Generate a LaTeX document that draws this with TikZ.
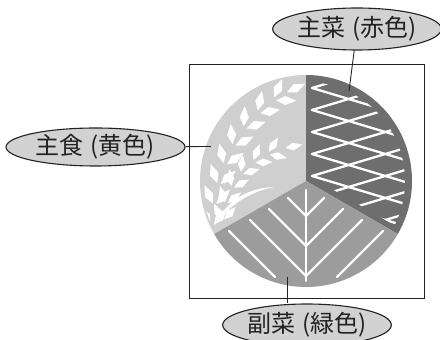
\documentclass[tikz,border=0pt]{standalone}
\usepackage{fontspec}
\newfontfamily\jpfont{Noto Sans CJK JP}
\usetikzlibrary{shapes.geometric,decorations.markings}

\definecolor{lightsec}{HTML}{CFCFCF}
\definecolor{darksec}{HTML}{6E6E6E}
\definecolor{midsec}{HTML}{9C9C9C}
\definecolor{tagfill}{HTML}{D2D2D2}
\definecolor{inkline}{HTML}{222222}

% two rice grains set as a herringbone pair, in the frame of the ear's axis
\newcommand\grainpair{%
  \fill[white,shift={(0,1.8)},rotate=34] (0,0) -- (9,4.5) -- (20,0) -- (9,-4.5) -- cycle;
  \fill[white,shift={(0,-1.8)},rotate=-34] (0,0) -- (9,4.5) -- (20,0) -- (9,-4.5) -- cycle;}
\newcommand\graintip{%
  \fill[white] (0,0) -- (9,4.5) -- (20,0) -- (9,-4.5) -- cycle;}

\begin{document}
\begin{tikzpicture}[x=1pt,y=1pt,
  callout/.style={ellipse, draw=inkline, line width=1.1pt, fill=tagfill,
    inner sep=0pt, text=inkline, font=\jpfont\fontsize{24}{28}\selectfont},
  leader/.style={draw=inkline, line width=0.9pt},
  netline/.style={white, line width=2.3pt, line cap=round, line join=round},
  vein/.style={white, line width=2.4pt, line cap=round, line join=round},
  ear/.style={decorate, decoration={markings,
    mark=between positions 0.02 and 0.84 step 0.115 with {\grainpair},
    mark=at position 0.9 with {\graintip}}},
  smallear/.style={decorate, decoration={markings,
    mark=between positions 0.04 and 0.8 step 0.14 with {\begin{scope}[scale=0.85]\grainpair\end{scope}},
    mark=at position 0.88 with {\begin{scope}[scale=0.85]\graintip\end{scope}}}}
]
\useasboundingbox (0,0) rectangle (440,340);

% outer frame
\draw[inkline, line width=0.9pt] (189,42) rectangle (424,276);

% the plate: three equal sectors
\coordinate (C) at (306,159);
\fill[lightsec] (C) -- ++(90:106) arc[start angle=90, end angle=210, radius=106] -- cycle;
\fill[darksec]  (C) -- ++(-30:106) arc[start angle=-30, end angle=90, radius=106] -- cycle;
\fill[midsec]   (C) -- ++(210:106) arc[start angle=210, end angle=330, radius=106] -- cycle;

% main dish: white net of chevrons
\begin{scope}
  \clip (C) circle[radius=99];
  \clip (310,400) -- (310,163.6) -- (500,54) -- (500,400) -- cycle;
  \foreach \v in {252,230,208,186,164,142,120,98}
    \draw[netline] (422,\v+33) -- (312,\v) -- (422,\v-33);
\end{scope}

% side dish: leaf veins
\draw[vein] (306,150) -- (306,59);
\foreach \yj/\L in {124/18, 94/37, 64/56}
  \draw[vein] (306-\L,\yj+\L) -- (306,\yj) -- (306+\L,\yj+\L);
\draw[vein] (229,109) -- (275,63);
\draw[vein] (383,109) -- (337,63);

% staple food: two ears of rice and a stalk, kept inside their sector
\begin{scope}
  \clip (C) -- ++(90:104) arc[start angle=90, end angle=210, radius=104] -- cycle;
  \path[ear] (212,112) .. controls (216,185) and (252,240) .. (304,254);
  \path[smallear] (222,116) .. controls (228,165) and (255,190) .. (300,194);
  \fill[white] (214,114) .. controls (230,136) and (250,148) .. (274,153)
    .. controls (250,152) and (228,142) .. (214,114) -- cycle;
\end{scope}

% labels and leaders
\node[callout, minimum width=179pt, minimum height=38pt] (staple) at (95.5,193) {主食\hspace{7pt}(黄色)};
\node[callout, minimum width=163pt, minimum height=42pt] (main) at (357,311) {主菜\hspace{7pt}(赤色)};
\node[callout, minimum width=168pt, minimum height=42pt] (side) at (307,15) {副菜\hspace{7pt}(緑色)};

\coordinate (stapletip) at (211,193.5);
\coordinate (maintip) at (349,249);
\coordinate (sidetip) at (287,63);

\draw[leader] (staple) -- (stapletip);
\draw[leader] (main) -- (maintip);
\draw[leader] (sidetip) -- (sidetip |- side.north);
\end{tikzpicture}
\end{document}
